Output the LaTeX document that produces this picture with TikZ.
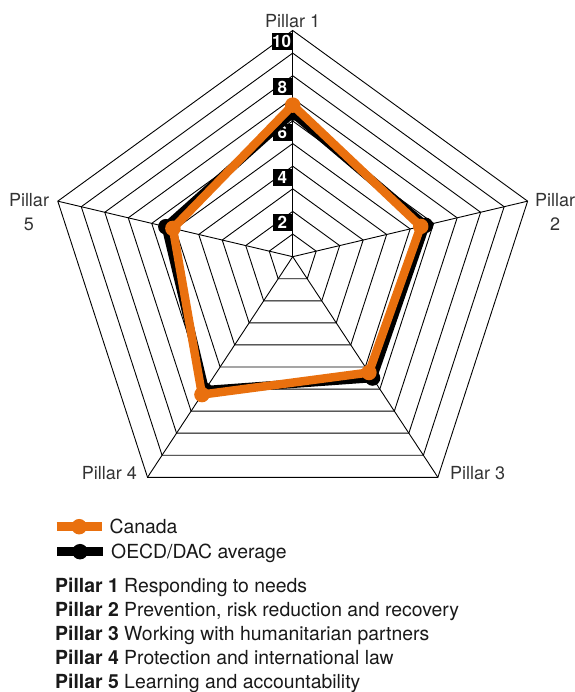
\documentclass[tikz,border=0pt]{standalone}
\usepackage{fontspec}
\setmainfont{TeX Gyre Heros}
\usepackage{xcolor}
\usepackage{tikz}
\usetikzlibrary{calc,positioning}
\definecolor{canadaorange}{RGB}{233,112,14}
\definecolor{labelgray}{RGB}{51,51,51}
\tikzset{
    ring/.style={draw, line width=0.9pt, line join=miter},
    spoke/.style={draw, line width=0.9pt},
    scorebox/.style={fill=black, text=white, font=\fontsize{17}{17}\selectfont\bfseries, inner sep=0.5pt, minimum width=18.5pt, minimum height=17pt},
    axislabel/.style={text=labelgray, font=\fontsize{18}{24}\selectfont, align=center, inner sep=0pt},
    canada/.style={draw=canadaorange, line width=8.5pt, line join=round},
    oecd/.style={draw=black, line width=8.5pt, line join=round},
    canadadot/.style={circle, fill=canadaorange, minimum size=15.5pt, inner sep=0pt},
    oecddot/.style={circle, fill=black, minimum size=15.5pt, inner sep=0pt},
    legendtext/.style={font=\fontsize{19.4}{23}\selectfont, text=black!90, inner sep=0pt, anchor=base west}
}

\begin{document}
\begin{tikzpicture}[x=1pt, y=1pt]
    \useasboundingbox (0,0) rectangle (574,692);
    \coordinate (P0) at (292.7,435.3);
    \coordinate (C) at (292.7,414.5);
    \foreach \i in {1,...,5}
        \coordinate (V\i) at ($(C)+({162-72*\i}:247)$);

    % grid
    \foreach \k in {1,...,10}
        \draw[ring] ($(P0)!{\k/10}!(V1)$) -- ($(P0)!{\k/10}!(V2)$) -- ($(P0)!{\k/10}!(V3)$)
            -- ($(P0)!{\k/10}!(V4)$) -- ($(P0)!{\k/10}!(V5)$) -- cycle;
    \foreach \i in {1,...,5}
        \draw[spoke] (P0) -- (V\i);

    \foreach \v in {2,4,...,10}
        \node[scorebox, anchor=north east, xshift=-1pt, yshift=-2.5pt] (s\v) at ($(P0)!{\v/10}!(V1)$) {\v};

    % scores
    \foreach \i/\cv/\ov in {1/6.7/6.35, 2/5.45/5.65, 3/5.25/5.5, 4/6.25/6.05, 5/5.1/5.4} {
        \coordinate (c\i) at ($(P0)!{\cv/10}!(V\i)$);
        \coordinate (o\i) at ($(P0)!{\ov/10}!(V\i)$);
    }
    \draw[oecd] (o1) -- (o2) -- (o3) -- (o4) -- (o5) -- cycle;
    \foreach \i in {1,...,5}
        \node[oecddot] (od\i) at (o\i) {};
    \draw[canada] (c1) -- (c2) -- (c3) -- (c4) -- (c5) -- cycle;
    \foreach \i in {1,...,5}
        \node[canadadot] (cd\i) at (c\i) {};

    \node[axislabel, anchor=base] (p1) at (292.7,664.7) {Pillar 1};
    \node[axislabel] (p2) at (555,480) {Pillar\\2};
    \node[axislabel, anchor=base west] (p3) at (450,212) {Pillar 3};
    \node[axislabel, anchor=base east] (p4) at (137,212) {Pillar 4};
    \node[axislabel] (p5) at (29,480) {Pillar\\5};

    % legend
    \coordinate (la) at (56.7,165.3);
    \coordinate (lb) at (101.7,165.3);
    \draw[canada] (la) -- (lb);
    \node[canadadot] (lcd) at ($(la)!0.5!(lb)$) {};
    \node[legendtext] (lct) at (109.3,158.7) {Canada};
    \coordinate (lc) at (57,140.3);
    \coordinate (ld) at (103,140.3);
    \draw[oecd] (lc) -- (ld);
    \node[oecddot] (lod) at ($(lc)!0.5!(ld)$) {};
    \node[legendtext] (lot) at (111,133.7) {OECD/DAC average};

    \foreach \i/\desc in {1/Responding to needs, 2/{Prevention, risk reduction and recovery},
        3/Working with humanitarian partners, 4/Protection and international law,
        5/Learning and accountability}
        \node[legendtext] (d\i) at (55,{99.3-23.9*(\i-1)}) {\textbf{Pillar \i} \desc};
\end{tikzpicture}
\end{document}
